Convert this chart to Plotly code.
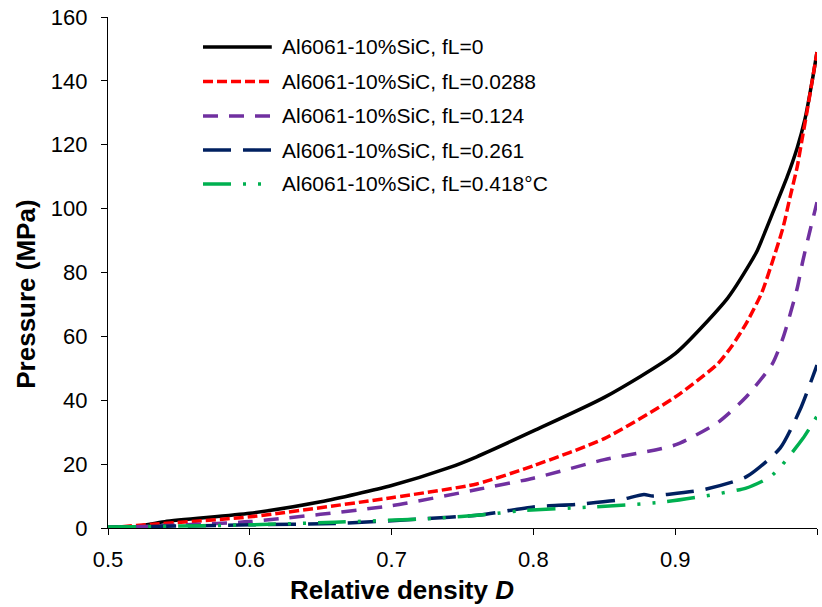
import plotly.graph_objects as go

# ---- data ----
x_fl0 = [0.515, 0.54, 0.6, 0.65, 0.7, 0.74, 0.76, 0.8, 0.85, 0.9, 0.937, 0.953, 0.958, 0.97, 0.979, 0.986, 0.9915, 0.997, 1.0]
y_fl0 = [0, 2.0, 4.6, 8.2, 13.3, 18.8, 22.3, 30.4, 40.9, 54.6, 72, 83, 87, 100, 110, 119, 128, 141, 149]

x_fl0288 = [0.5, 0.52, 0.6, 0.7, 0.76, 0.8, 0.85, 0.9, 0.93, 0.94, 0.95, 0.961, 0.969, 0.976, 0.981, 0.986, 0.9894, 0.993, 1.0]
y_fl0288 = [0, 0.8, 3.5, 9.5, 13.8, 19.5, 28.0, 41, 51.4, 57.0, 64.0, 73.6, 84, 94, 103.6, 113, 121.5, 130.5, 149]

x_fl124 = [0.5, 0.525, 0.6, 0.7, 0.762, 0.8, 0.85, 0.9, 0.93, 0.95, 0.9685, 0.9764, 0.986, 0.99, 0.995, 1.0]
y_fl124 = [0, 0.5, 2, 7.0, 12.2, 15.6, 21.4, 26.0, 33, 41, 51.4, 60, 75, 83.6, 93, 102]

x_fl261 = [0.5, 0.55, 0.6, 0.66, 0.72, 0.762, 0.8, 0.83, 0.861, 0.878, 0.884, 0.892, 0.919, 0.95, 0.974, 0.988, 1.0]
y_fl261 = [0.3, 0.6, 1.0, 1.4, 2.8, 4.1, 6.6, 7.4, 8.8, 10.5, 10.0, 10.4, 11.9, 16, 25, 37, 51]

x_fl418 = [0.5, 0.55, 0.6, 0.66, 0.73, 0.77, 0.794, 0.838, 0.893, 0.95, 0.967, 0.974, 0.99, 1.0]
y_fl418 = [0.3, 0.6, 1.0, 1.8, 3.0, 4.4, 5.5, 6.5, 8.2, 12.5, 16, 19, 28, 35]

series_names = [
    "Al6061-10%SiC, fL=0",
    "Al6061-10%SiC, fL=0.0288",
    "Al6061-10%SiC, fL=0.124",
    "Al6061-10%SiC, fL=0.261",
    "Al6061-10%SiC, fL=0.418°C",
]

x_tickvals = [0.5, 0.6, 0.7, 0.8, 0.9, 1.0]
x_ticktext = ["0.5", "0.6", "0.7", "0.8", "0.9", "1"]
y_tickvals = [0, 20, 40, 60, 80, 100, 120, 140, 160]

x_title = "<b>Relative density <i>D</i></b>"
y_title = "<b>Pressure (MPa)</b>"

# ---- styles ----
colors = ["#000000", "#FF0000", "#7030A0", "#002060", "#00B050"]
dashes = ["solid", "10px,4px", "15px,11px", "28px,12px", "28px,12px,3px,12px,3px,12px"]
LW = 3.5
FONT = "Arial, Liberation Sans, sans-serif"

xs = [x_fl0, x_fl0288, x_fl124, x_fl261, x_fl418]
ys = [y_fl0, y_fl0288, y_fl124, y_fl261, y_fl418]

fig = go.Figure()
for x, y, n, c, d in zip(xs, ys, series_names, colors, dashes):
    fig.add_trace(go.Scatter(x=x, y=y, mode="lines", name=n,
                             line=dict(color=c, width=LW, dash=d,
                                       shape="spline", smoothing=0.6)))

# custom legend (paper coords)
leg_y = [0.9413, 0.8738, 0.8063, 0.7397, 0.6732]
shapes = []
annotations = []
for yy, n, c, d in zip(leg_y, series_names, colors, dashes):
    shapes.append(dict(type="line", xref="paper", yref="paper",
                       x0=0.134, x1=0.231, y0=yy, y1=yy,
                       line=dict(color=c, width=LW, dash=d)))
    annotations.append(dict(xref="paper", yref="paper", x=0.2426, y=yy,
                            xanchor="left", yanchor="middle", showarrow=False,
                            text=n, font=dict(family=FONT, size=21, color="#000000")))

# axis titles
annotations.append(dict(xref="paper", yref="paper", x=0.414, y=-0.121,
                        xanchor="center", yanchor="middle", showarrow=False,
                        text=x_title, font=dict(family=FONT, size=26, color="#000000")))
annotations.append(dict(xref="paper", yref="paper", x=-0.116, y=0.458,
                        xanchor="center", yanchor="middle", showarrow=False,
                        textangle=-90,
                        text=y_title, font=dict(family=FONT, size=26, color="#000000")))

fig.update_layout(
    width=822, height=607,
    margin=dict(l=108, r=5, t=17, b=79),
    paper_bgcolor="white", plot_bgcolor="white",
    showlegend=False,
    font=dict(family=FONT, color="#000000"),
    shapes=shapes, annotations=annotations,
)
fig.update_xaxes(range=[0.5, 1.0], tickvals=x_tickvals, ticktext=x_ticktext,
                 showline=True, linecolor="#000000", linewidth=1.3,
                 ticks="outside", ticklen=6, tickcolor="#000000", tickwidth=1.3,
                 showgrid=False, zeroline=False, ticklabelstandoff=5,
                 tickfont=dict(size=22, family=FONT, color="#000000"))
fig.update_yaxes(range=[0, 160], tickvals=y_tickvals,
                 showline=True, linecolor="#000000", linewidth=1.3,
                 ticks="outside", ticklen=6, tickcolor="#000000", tickwidth=1.3,
                 showgrid=False, zeroline=False, ticklabelstandoff=9,
                 tickfont=dict(size=22, family=FONT, color="#000000"))

fig.write_html("out.html")
